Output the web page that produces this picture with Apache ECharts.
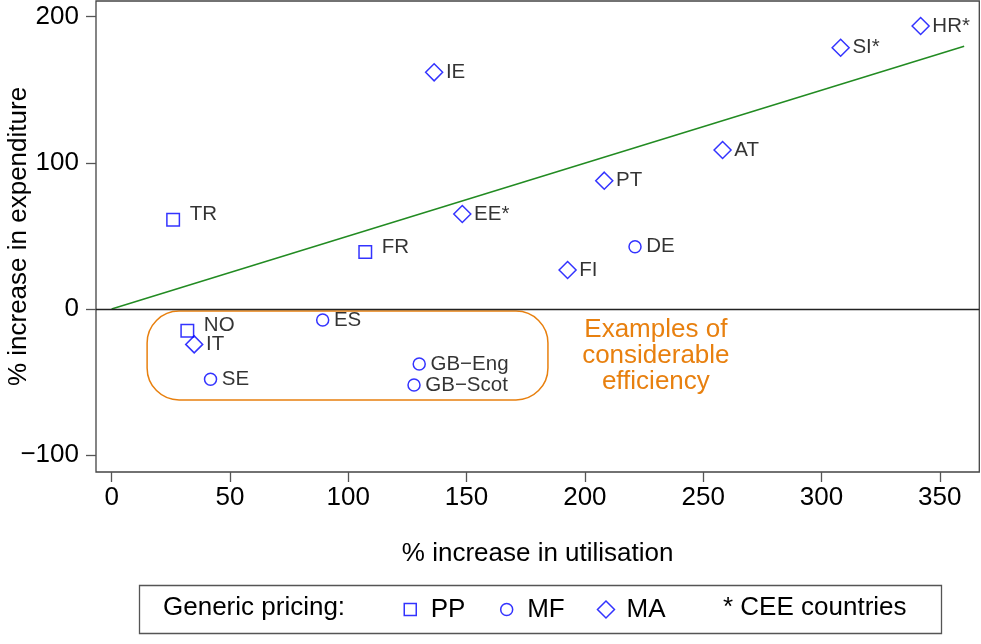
<!DOCTYPE html>
<html>
<head>
<meta charset="utf-8">
<script src="https://cdn.jsdelivr.net/npm/echarts@6/dist/echarts.min.js"></script>
<style>
  html, body { margin: 0; padding: 0; background: #fff; }
  #chart-div { width: 981px; height: 644px; }
</style>
</head>
<body>
<div id="chart-div"></div>
<script>
// pisteet hinnoittelutavan mukaan (x = käytön kasvu %, y = menojen kasvu %)
const ppNames = ['TR', 'FR', 'NO']
const ppX = [26, 107.2, 32]
const ppY = [61, 39, -14.8]

const mfNames = ['ES', 'SE', 'GB\u2212Eng', 'GB\u2212Scot', 'DE']
const mfX = [89.2, 41.8, 130, 127.8, 221.2]
const mfY = [-7.5, -48.1, -37.6, -52, 42.6]

const maNames = ['IE', 'EE*', 'FI', 'PT', 'AT', 'SI*', 'HR*', 'IT']
const maX = [136.3, 148.2, 192.7, 208.2, 258.2, 308.1, 341.9, 34.9]
const maY = [161.9, 65, 26.7, 87.8, 108.8, 178.7, 193.6, -24.2]

// regressiosuora ja korostettu alue
const fitLine = [[0, 0], [360.3, 179.8]]
const effBox = [[15.0, -1.4, 184.4, -62.2]]
const effText = [[230, -32.1]]

const xTicks = [0, 50, 100, 150, 200, 250, 300, 350]
const yTicks = [-100, 0, 100, 200]

const font = "'Liberation Sans', Arial, Helvetica, sans-serif"
const blue = '#0000ff'
const orange = '#e8800f'

function points(names, xs, ys) {
    return names.map((n, i) => ({ name: n, value: [xs[i], ys[i]] }))
}

function scatter(name, symbol, size, data, dist, offset) {
    return {
        name: name,
        type: 'scatter',
        symbol: symbol,
        symbolSize: size,
        data: data,
        itemStyle: { color: 'transparent', borderColor: blue, borderWidth: 1.5 },
        emphasis: { disabled: true },
        label: {
            show: true,
            position: 'right',
            distance: dist,
            offset: offset,
            formatter: '{b}',
            color: '#000',
            fontSize: 20.5,
            fontFamily: font
        },
        z: 5
    }
}

let myChart = echarts.init(document.getElementById('chart-div'))

const option = {
    animation: false,
    grid: {
        left: 96, right: 1.7, top: 1, bottom: 172,
        outerBoundsMode: 'none',
        containLabel: false,
        show: true, borderColor: '#444', borderWidth: 1.3
    },
    xAxis: {
        type: 'value',
        min: -6.6, max: 366.7,
        name: '% increase in utilisation',
        nameLocation: 'middle',
        nameGap: 69,
        nameMoveOverlap: false,
        nameTextStyle: { fontSize: 26, color: '#000', fontFamily: font },
        axisLine: { show: false, onZero: false },
        splitLine: { show: false },
        axisTick: { show: true, length: 10, customValues: xTicks, lineStyle: { color: '#555', width: 1.3 } },
        axisLabel: { customValues: xTicks, fontSize: 26, color: '#000', fontFamily: font, margin: 13 }
    },
    yAxis: {
        type: 'value',
        min: -111.5, max: 210.7,
        name: '% increase in expenditure',
        nameLocation: 'middle',
        nameRotate: 90,
        nameGap: 64,
        nameMoveOverlap: false,
        nameTextStyle: { fontSize: 26, color: '#000', fontFamily: font },
        axisLine: { show: false, onZero: false },
        splitLine: { show: false },
        axisTick: { show: true, length: 10, customValues: yTicks, lineStyle: { color: '#555', width: 1.3 } },
        axisLabel: {
            customValues: yTicks, fontSize: 26, color: '#000', fontFamily: font, margin: 17,
            formatter: v => (v < 0 ? '\u2212' + Math.abs(v) : String(v))
        }
    },
    legend: {
        left: 396, top: 591.5,
        orient: 'horizontal',
        itemWidth: 17, itemHeight: 17, itemGap: 32,
        selectedMode: false,
        textStyle: { fontSize: 26, color: '#000', fontFamily: font, padding: [0, 0, 0, 7] },
        itemStyle: { color: 'transparent', borderColor: blue, borderWidth: 1.5 },
        data: [
            { name: 'PP', icon: 'path://M0,0M17,17M2.5,2.5h12v12h-12z' },
            { name: 'MF', icon: 'path://M0,0M17,17M14.5,8.5C14.5,11.814 11.814,14.5 8.5,14.5C5.186,14.5 2.5,11.814 2.5,8.5C2.5,5.186 5.186,2.5 8.5,2.5C11.814,2.5 14.5,5.186 14.5,8.5Z' },
            { name: 'MA', icon: 'diamond' }
        ]
    },
    graphic: [
        { type: 'rect', left: 137, top: 583, shape: { width: 802, height: 48 },
          style: { fill: 'none', stroke: '#555', lineWidth: 1.3 } },
        { type: 'text', x: 163, y: 608,
          style: { text: 'Generic pricing:', fontSize: 26, fontFamily: font, fill: '#000', verticalAlign: 'middle' } },
        { type: 'text', x: 723, y: 608,
          style: { text: '* CEE countries', fontSize: 26, fontFamily: font, fill: '#000', verticalAlign: 'middle' } }
    ],
    series: [
        {
            name: 'fit',
            type: 'line',
            data: fitLine,
            symbol: 'none',
            lineStyle: { color: '#228b22', width: 1.5 },
            silent: true,
            markLine: {
                silent: true,
                symbol: 'none',
                label: { show: false },
                lineStyle: { color: '#222', type: 'solid', width: 1.3 },
                data: [{ yAxis: 0 }]
            },
            z: 2
        },
        {
            name: 'box',
            type: 'custom',
            data: effBox,
            encode: { x: [0, 2], y: [1, 3] },
            silent: true,
            renderItem: function (params, api) {
                const p1 = api.coord([api.value(0), api.value(1)])
                const p2 = api.coord([api.value(2), api.value(3)])
                return {
                    type: 'rect',
                    shape: { x: p1[0], y: p1[1], width: p2[0] - p1[0], height: p2[1] - p1[1], r: 32 },
                    style: { fill: 'none', stroke: orange, lineWidth: 1.5 }
                }
            },
            z: 3
        },
        {
            name: 'note',
            type: 'custom',
            data: effText,
            silent: true,
            renderItem: function (params, api) {
                const p = api.coord([api.value(0), api.value(1)])
                return {
                    type: 'text',
                    x: p[0], y: p[1],
                    style: {
                        text: 'Examples of\nconsiderable\nefficiency',
                        fill: orange, fontSize: 26, fontFamily: font,
                        align: 'center', verticalAlign: 'middle', lineHeight: 26
                    }
                }
            },
            z: 3
        },
        scatter('PP', 'rect', 12.5, points(ppNames, ppX, ppY), 9.5, [0, -5]),
        scatter('MF', 'circle', 12, points(mfNames, mfX, mfY), 4.5, [0, 0]),
        scatter('MA', 'diamond', 17, points(maNames, maX, maY), 2.5, [0, 0])
    ]
}

myChart.setOption(option)
</script>
</body>
</html>
